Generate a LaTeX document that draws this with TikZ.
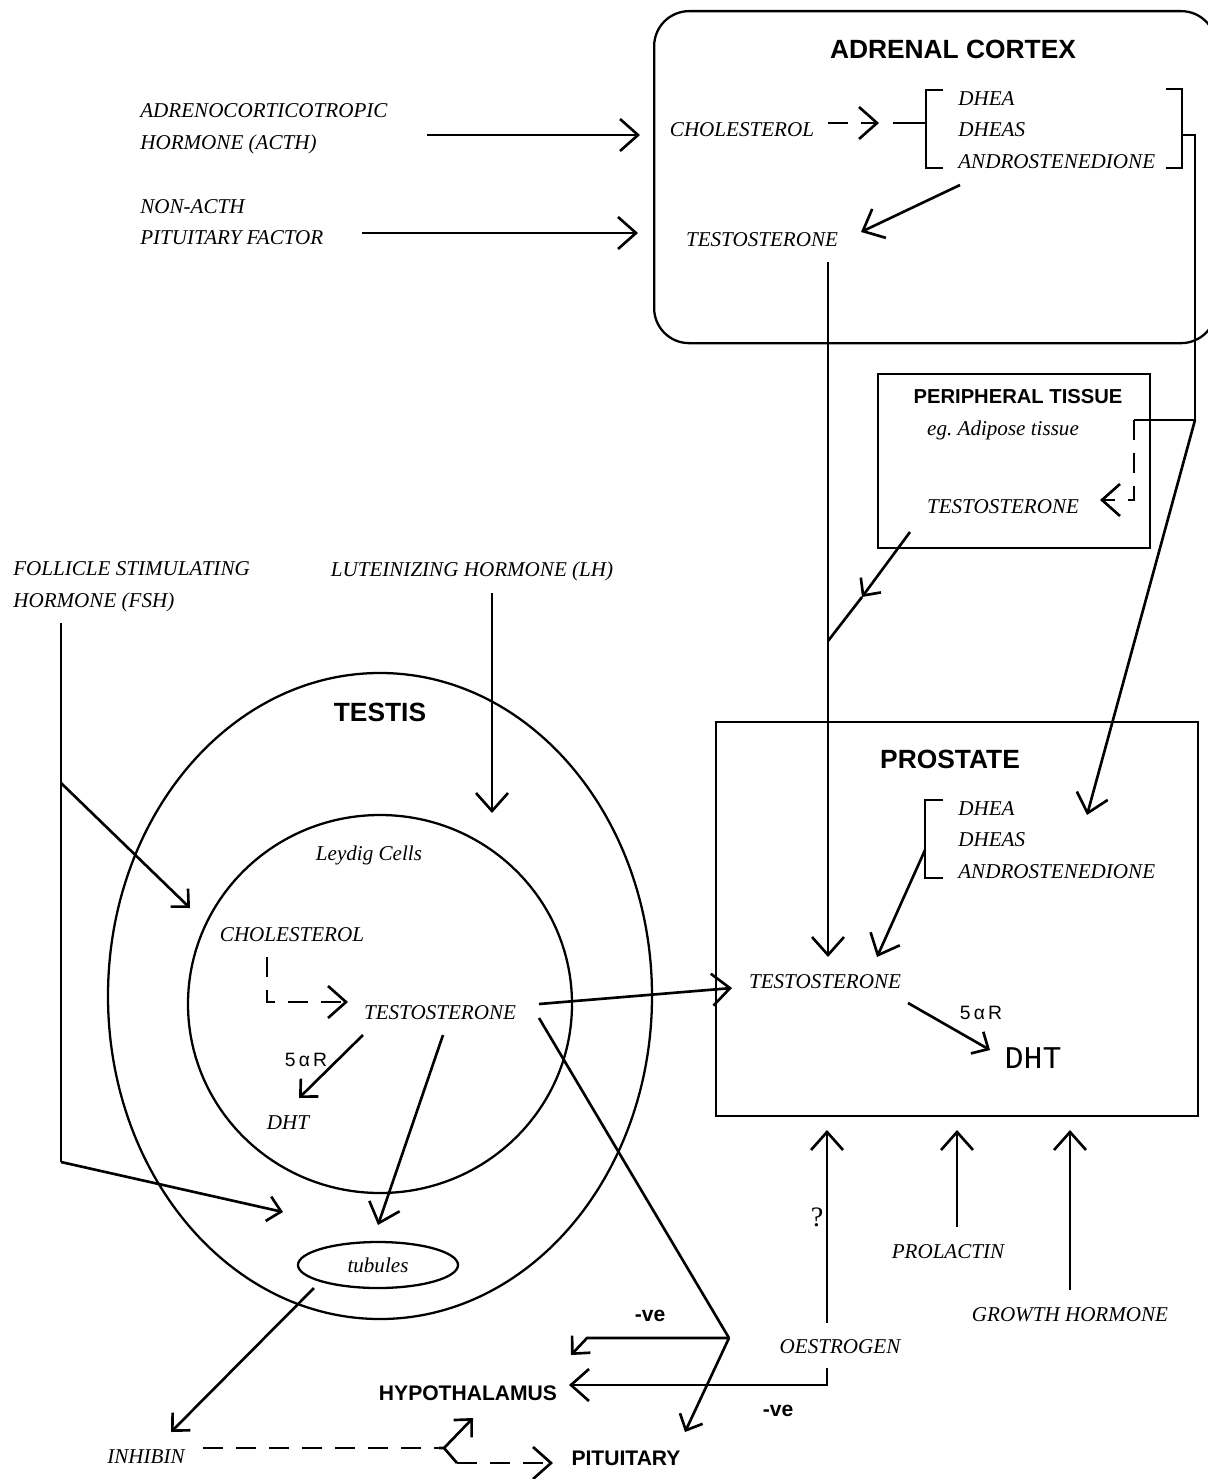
\documentclass[tikz,border=0pt]{standalone}
\usepackage{fontspec}
\setmainfont{Liberation Serif}
\setsansfont{Liberation Sans}
\setmonofont{Liberation Mono}
\usetikzlibrary{arrows.meta,shapes.geometric}

\begin{document}
\begin{tikzpicture}[x=0.2mm, y=-0.2mm, line width=1.5pt,
        txt/.style={font=\itshape\fontsize{12}{18}\selectfont, inner sep=0pt, align=left},
        organ/.style={font=\sffamily\bfseries\fontsize{15}{18}\selectfont, inner sep=0pt},
        site/.style={font=\sffamily\bfseries\fontsize{12}{14}\selectfont, inner sep=0pt},
        enz/.style={font=\sffamily\fontsize{11}{13}\selectfont, inner sep=0pt},
        wall/.style={draw, line width=1.3pt},
        big/.style={-{Straight Barb[length=3.6mm,width=6.4mm]}},
        small/.style={-{Straight Barb[length=2.6mm,width=5mm]}},
        dsh/.style={dash pattern=on 4mm off 2.6mm}]
        \useasboundingbox (0,0) rectangle (1207,1479);

        % adrenal cortex
        \node[wall, rounded corners=7mm, minimum width=112.4mm, minimum height=66.4mm, anchor=north west] (adrenal) at (653,10) {};
        \node[organ] (adrtitle) at (953,49) {ADRENAL CORTEX};
        \node[txt] (achol) at (742,130) {CHOLESTEROL};
        \node[txt, anchor=west] (aandro) at (957,130) {DHEA\\DHEAS\\ANDROSTENEDIONE};
        \node[txt] (atesto) at (762,240) {TESTOSTERONE};
        \node[txt, anchor=west] (acth) at (139,129) {ADRENOCORTICOTROPIC\\HORMONE (ACTH)};
        \node[txt, anchor=west] (nonacth) at (139,222) {NON-ACTH\\PITUITARY FACTOR};

        % peripheral tissue
        \node[wall, minimum width=54.4mm, minimum height=34.8mm, anchor=north west] (periph) at (877,373) {};
        \node[font=\sffamily\bfseries\fontsize{11.5}{14}\selectfont, inner sep=0pt] (pertitle) at (1018,397) {PERIPHERAL TISSUE};
        \node[txt] (adipose) at (1003,430) {eg.\ Adipose tissue};
        \node[txt] (ptesto) at (1003,507) {TESTOSTERONE};

        % prostate
        \node[wall, minimum width=96.4mm, minimum height=78.8mm, anchor=north west] (prostate) at (715,721) {};
        \node[organ] (prtitle) at (950,759) {PROSTATE};
        \node[txt, anchor=west] (pandro) at (957,840) {DHEA\\DHEAS\\ANDROSTENEDIONE};
        \node[txt] (prtesto) at (825,982) {TESTOSTERONE};
        \node[enz] (pr5ar) at (981,1013) {5\,α\,R};
        \node[font=\ttfamily\fontsize{18}{20}\selectfont, inner sep=0pt] (prdht) at (1033,1058) {DHT};

        % testis
        \node[wall, ellipse, minimum width=108.8mm, minimum height=129.2mm, inner sep=0pt] (testis) at (380,996) {};
        \node[wall, ellipse, minimum width=76.8mm, minimum height=75.6mm, inner sep=0pt] (leydig) at (380,1004) {};
        \node[organ] (tstitle) at (380,712) {TESTIS};
        \node[txt] (lcells) at (369,855) {Leydig Cells};
        \node[txt] (lchol) at (292,935) {CHOLESTEROL};
        \node[txt] (ltesto) at (440,1013) {TESTOSTERONE};
        \node[enz] (l5ar) at (306,1060) {5\,α\,R};
        \node[txt] (ldht) at (288,1123) {DHT};
        \node[txt, wall, ellipse, minimum width=32mm, minimum height=9.2mm] (tubules) at (378,1265) {tubules};
        \node[txt, anchor=west] (fsh) at (12,587) {FOLLICLE STIMULATING\\HORMONE (FSH)};
        \node[txt] (lh) at (472,571) {LUTEINIZING HORMONE (LH)};

        % feedback
        \node[txt] (inhibin) at (146,1457) {INHIBIN};
        \node[site] (hypo) at (468,1393) {HYPOTHALAMUS};
        \node[site] (pit) at (626,1458) {PITUITARY};
        \node[site] (nvea) at (650,1316) {-ve};
        \node[site] (nveb) at (778,1411) {-ve};
        \node[txt] (oest) at (840,1347) {OESTROGEN};
        \node[font=\fontsize{16}{18}\selectfont, inner sep=0pt] (query) at (817,1217) {?};
        \node[txt] (prolac) at (948,1252) {PROLACTIN};
        \node[txt] (gh) at (1070,1315) {GROWTH HORMONE};

        % brackets
        \draw (943,90) -- (926,90) -- (926,168) -- (943,168);
        \draw (1166,89) -- (1182,89) -- (1182,168) -- (1166,168);
        \draw (943,800) -- (925,800) -- (925,878) -- (943,878);

        \coordinate (acthout) at (427,135);
        \coordinate (acthin) at (640,135);
        \coordinate (nonout) at (362,233);
        \coordinate (nonin) at (638,233);
        \coordinate (acholout) at (828,123);
        \coordinate (acholin) at (879,123);
        \coordinate (abrin) at (893,123);
        \coordinate (abrl) at (926,123);
        \coordinate (abrr) at (1182,135);
        \coordinate (abrout) at (1195,135);
        \coordinate (turn) at (1195,420);
        \coordinate (pin) at (1134,420);
        \coordinate (pdown) at (1134,500);
        \coordinate (ptip) at (1100,500);
        \coordinate (aandout) at (960,185);
        \coordinate (atestin) at (861,232);
        \coordinate (atestout) at (828,262);
        \coordinate (prin) at (828,957);
        \coordinate (pandin) at (877,957);
        \coordinate (pbr) at (925,850);
        \coordinate (prdhea) at (1087,815);
        \coordinate (ptout) at (910,532);
        \coordinate (ptmid) at (862,597);
        \coordinate (ptjoin) at (828,641);

        \draw[big] (acthout) -- (acthin);
        \draw[big] (nonout) -- (nonin);
        \draw[big, dsh] (acholout) -- (acholin);
        \draw (abrin) -- (abrl);
        \draw (abrr) -- (abrout) -- (turn) -- (pin);
        \draw[big, dsh] (pin) -- (pdown) -- (ptip);
        \draw[big] (turn) -- (prdhea);
        \draw[big] (aandout) -- (atestin);
        \draw[big] (atestout) -- (prin);
        \draw[small] (ptout) -- (ptmid);
        \draw (ptmid) -- (ptjoin);
        \draw[big] (pbr) -- (pandin);

        \coordinate (lttop) at (539,1004);
        \coordinate (prtin) at (732,988);
        \coordinate (pr5out) at (908,1003);
        \coordinate (pr5in) at (990,1050);
        \draw[big] (lttop) -- (prtin);
        \draw[small] (pr5out) -- (pr5in);

        \coordinate (lhout) at (492,593);
        \coordinate (lhin) at (492,813);
        \coordinate (fshout) at (61,623);
        \coordinate (fshbr) at (61,783);
        \coordinate (fshlow) at (61,1162);
        \coordinate (fshin) at (190,908);
        \coordinate (tubin) at (283,1212);
        \draw[big] (lhout) -- (lhin);
        \draw (fshout) -- (fshlow);
        \draw[small] (fshbr) -- (fshin);
        \draw[small] (fshlow) -- (tubin);

        \coordinate (lcholout) at (267,957);
        \coordinate (lcholbend) at (267,1002);
        \coordinate (lcholin) at (348,1002);
        \coordinate (ltdht) at (363,1035);
        \coordinate (ldhtin) at (299,1098);
        \coordinate (lttub) at (443,1035);
        \coordinate (tubtop) at (378,1225);
        \draw[big, dsh] (lcholout) -- (lcholbend) -- (lcholin);
        \draw[small] (ltdht) -- (ldhtin);
        \draw[big] (lttub) -- (tubtop);

        \coordinate (tubout) at (314,1288);
        \coordinate (inhin) at (171,1432);
        \coordinate (inhout) at (203,1448);
        \coordinate (fork) at (444,1448);
        \coordinate (hypin) at (473,1418);
        \coordinate (forklow) at (457,1463);
        \coordinate (pitin) at (553,1463);
        \draw[small] (tubout) -- (inhin);
        \draw[dsh] (inhout) -- ([xshift=-1mm]fork);
        \draw[small] ([xshift=-1mm]fork) -- (fork) -- (hypin);
        \draw (fork) -- (forklow);
        \draw[big, dsh] (forklow) -- (pitin);

        \coordinate (ltneg) at (539,1018);
        \coordinate (vtx) at (729,1338);
        \coordinate (negbend) at (587,1338);
        \coordinate (negtip) at (571,1355);
        \coordinate (pittip) at (685,1432);
        \draw (ltneg) -- (vtx);
        \draw[small] (vtx) -- (negbend) -- (negtip);
        \draw[small] (vtx) -- (pittip);

        \coordinate (oestup) at (827,1323);
        \coordinate (oesttop) at (827,1130);
        \coordinate (oestdown) at (827,1368);
        \coordinate (oestbend) at (827,1385);
        \coordinate (hyptip) at (569,1385);
        \coordinate (prolout) at (957,1227);
        \coordinate (proltop) at (957,1130);
        \coordinate (ghout) at (1070,1290);
        \coordinate (ghtop) at (1070,1130);
        \draw[big] (oestup) -- (oesttop);
        \draw[big] (oestdown) -- (oestbend) -- (hyptip);
        \draw[big] (prolout) -- (proltop);
        \draw[big] (ghout) -- (ghtop);
    \end{tikzpicture}
\end{document}
